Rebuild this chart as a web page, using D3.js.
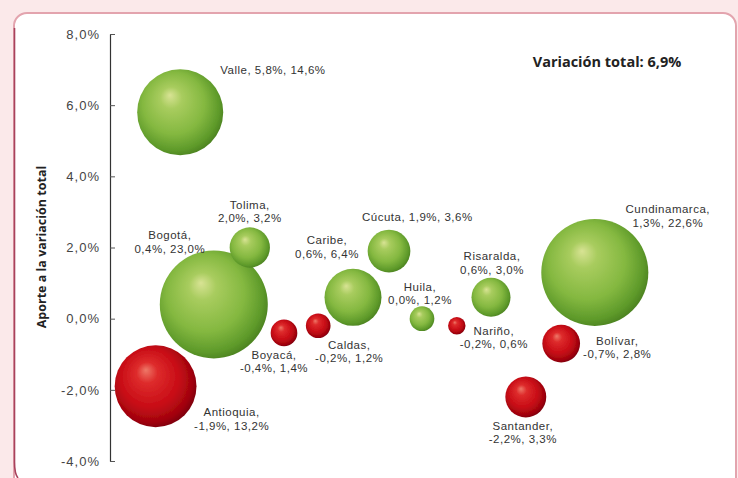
<!DOCTYPE html>
<html>
<head>
<meta charset="utf-8">
<script src="https://cdn.jsdelivr.net/npm/d3@7"></script>
<style>
  body { margin: 0; background: #fbe9ea; }
  svg { display: block; }
</style>
</head>
<body>
<div id="content"></div>
<script>
// aporte de cada región a la variación total y su participación
const regiones = ['Antioquia', 'Valle', 'Bogotá', 'Tolima', 'Boyacá', 'Caldas', 'Caribe', 'Cúcuta',
                  'Huila', 'Nariño', 'Risaralda', 'Santander', 'Bolívar', 'Cundinamarca'];
const aporte = [-1.9, 5.8, 0.4, 2.0, -0.4, -0.2, 0.6, 1.9, 0.0, -0.2, 0.6, -2.2, -0.7, 1.3];
const participacion = [13.2, 14.6, 23.0, 3.2, 1.4, 1.2, 6.4, 3.6, 1.2, 0.6, 3.0, 3.3, 2.8, 22.6];
// lugar horizontal de cada burbuja (0 a 100, sin unidad)
const orden = [7.6, 11.7, 17.3, 23.3, 29, 34.7, 40.5, 46.5, 52, 57.8, 63.5, 69.3, 75.2, 80.8];

const yTicks = [-4, -2, 0, 2, 4, 6, 8];
const variacionTotal = 6.9;

var width = 738;
var height = 478;

const es = d3.formatLocale({decimal: ',', thousands: '.', grouping: [3], currency: ['', ''], minus: '-'});
const pct = v => es.format('.1f')(v) + '%';

const font = '"Liberation Sans", Arial, sans-serif';
const lineGap = 13.5;

// desplazamiento de cada etiqueta respecto al centro de su burbuja
const etiquetas = {
    'Valle':        {dx: 40,  dy: -38, anchor: 'start',  oneLine: true},
    'Cúcuta':       {dx: -27, dy: -30, anchor: 'start',  oneLine: true},
    'Antioquia':    {dx: 76,  dy: 30},
    'Bogotá':       {dx: -44, dy: -65},
    'Tolima':       {dx: 0,   dy: -39},
    'Boyacá':       {dx: -10, dy: 26},
    'Caldas':       {dx: 31,  dy: 23},
    'Caribe':       {dx: -26, dy: -53},
    'Huila':        {dx: -2,  dy: -28},
    'Nariño':       {dx: 37,  dy: 9},
    'Risaralda':    {dx: 1,   dy: -37},
    'Santander':    {dx: -3,  dy: 33},
    'Bolívar':      {dx: 56,  dy: 1},
    'Cundinamarca': {dx: 73,  dy: -59}
};

const data = regiones.map((r, i) => ({
    region: r, aporte: aporte[i], part: participacion[i], pos: orden[i]
}));

const svg = d3.select('#content')
              .append('svg')
              .attr('width', width)
              .attr('height', height);

// marco blanco con borde rosado
svg.append('rect')
   .attr('x', 14).attr('y', 13)
   .attr('width', 722).attr('height', 480)
   .attr('rx', 13)
   .attr('fill', '#ffffff')
   .attr('stroke', '#e3a4ae')
   .attr('stroke-width', 2);
svg.append('path')
   .attr('d', 'M14.5,28 L14.5,462 Q14.5,474 18,478')
   .attr('fill', 'none')
   .attr('stroke', '#a8425c')
   .attr('stroke-width', 1.6);

const x = d3.scaleLinear().domain([0, 100]).range([110, 710]);
const y = d3.scaleLinear().domain([-4, 8]).range([461, 34]);
const r = d3.scaleSqrt().domain([0, 23]).range([0, 54]);

// gradientes para el efecto de esfera
const defs = svg.append('defs');
const grads = {
    verde: [['0%', '#d8e394'], ['22%', '#a8cc5e'], ['62%', '#84b840'], ['88%', '#5e9a2a'], ['100%', '#4a8020']],
    rojo:  [['0%', '#ee7868'], ['22%', '#de2c2c'], ['62%', '#c80c16'], ['88%', '#a0040e'], ['100%', '#78000a']]
};
Object.keys(grads).forEach(k => {
    const g = defs.append('radialGradient')
                  .attr('id', 'g-' + k)
                  .attr('cx', '0.45').attr('cy', '0.45').attr('r', '0.58')
                  .attr('fx', '0.38').attr('fy', '0.3');
    grads[k].forEach(s => g.append('stop').attr('offset', s[0]).attr('stop-color', s[1]));
});
defs.append('filter').attr('id', 'soft')
    .append('feGaussianBlur').attr('stdDeviation', 0.7);

// eje vertical
const axis = d3.axisLeft(y)
               .tickValues(yTicks)
               .tickSizeInner(-5)
               .tickSizeOuter(0)
               .tickPadding(10)
               .tickFormat(pct);

const gAxis = svg.append('g')
                 .attr('transform', 'translate(110,0)')
                 .call(axis);
gAxis.select('.domain').attr('stroke', '#333').attr('stroke-width', 1.2);
gAxis.selectAll('.tick line').attr('stroke', '#555');
gAxis.selectAll('.tick text')
     .attr('fill', '#444')
     .style('font-family', font)
     .style('font-size', '13px')
     .style('letter-spacing', '1px');

svg.append('text')
   .attr('transform', 'translate(46,247) rotate(-90)')
   .attr('text-anchor', 'middle')
   .style('font-family', '"Open Sans", sans-serif')
   .style('font-size', '12.5px')
   .style('font-weight', 'bold')
   .attr('fill', '#222')
   .text('Aporte a la variación total');

svg.append('text')
   .attr('x', 607).attr('y', 67)
   .attr('text-anchor', 'middle')
   .style('font-family', '"Open Sans", sans-serif')
   .style('font-size', '14.5px')
   .style('font-weight', 'bold')
   .attr('fill', '#222')
   .text('Variación total: ' + pct(variacionTotal));

// burbujas, las grandes primero
svg.append('g')
   .selectAll('circle')
   .data(data.slice().sort((a, b) => b.part - a.part))
   .enter()
   .append('circle')
   .attr('cx', d => x(d.pos))
   .attr('cy', d => y(d.aporte))
   .attr('r', d => r(d.part))
   .attr('fill', d => d.aporte < 0 ? 'url(#g-rojo)' : 'url(#g-verde)')
   .attr('filter', 'url(#soft)');

// etiquetas: región, aporte y participación
const labels = svg.append('g')
                  .selectAll('text')
                  .data(data)
                  .enter()
                  .append('text')
                  .attr('x', d => x(d.pos) + etiquetas[d.region].dx)
                  .attr('y', d => y(d.aporte) + etiquetas[d.region].dy)
                  .attr('text-anchor', d => etiquetas[d.region].anchor || 'middle')
                  .attr('fill', '#333')
                  .style('font-family', font)
                  .style('font-size', '11.5px')
                  .style('letter-spacing', '0.5px');

labels.each(function(d) {
    const t = d3.select(this);
    const cfg = etiquetas[d.region];
    const valores = pct(d.aporte) + ', ' + pct(d.part);
    if (cfg.oneLine) {
        t.text(d.region + ', ' + valores);
    } else {
        t.append('tspan').text(d.region + ',');
        t.append('tspan')
         .attr('x', x(d.pos) + cfg.dx)
         .attr('dy', lineGap)
         .text(valores);
    }
});
</script>
</body>
</html>
